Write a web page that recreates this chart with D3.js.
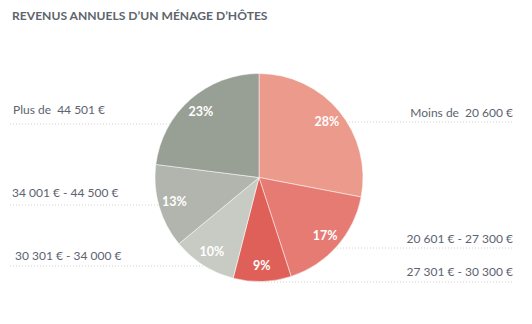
<!DOCTYPE html>
<html>
<head>
<meta charset="utf-8">
<script src="https://cdn.jsdelivr.net/npm/d3@7"></script>
<style>
  html, body { margin: 0; padding: 0; background: #fff; }
  svg { display: block; }
</style>
</head>
<body>
<svg id="chart" width="532" height="324"></svg>
<script>
const title = "REVENUS ANNUELS D’UN MÉNAGE D’HÔTES";
const categories = [
  "Moins de  20 600 €",
  "20 601 € - 27 300 €",
  "27 301 € - 30 300 €",
  "30 301 € - 34 000 €",
  "34 001 € - 44 500 €",
  "Plus de  44 501 €"
];
const values = [28, 17, 9, 10, 13, 23];
const colors = ["#eb9a8b", "#e67b73", "#df5f59", "#c8cbc3", "#b1b5ad", "#989f95"];

// layout
const W = 532, H = 324;
const cx = 259, cy = 177.5, R = 104;
const labelLayout = [
  { side: "right", textY: 117, lineY: 122 },
  { side: "right", textY: 243, lineY: 248 },
  { side: "right", textY: 276, lineY: 282 },
  { side: "left",  textY: 260, lineY: 266, x: 15 },
  { side: "left",  textY: 197, lineY: 205, x: 12 },
  { side: "left",  textY: 114, lineY: 124, x: 13 }
];

const svg = d3.select("#chart");

svg.append("text")
  .attr("x", 12).attr("y", 19.5)
  .attr("font-family", "Lato, sans-serif")
  .attr("font-weight", 700)
  .attr("font-size", 12.1)
  .attr("fill", "#5d646b")
  .text(title);

const data = categories.map((c, i) => ({ cat: c, value: values[i], color: colors[i], layout: labelLayout[i] }));

// dotted guide lines
const lines = svg.append("g");
data.forEach(d => {
  const L = d.layout;
  const x1 = L.side === "right" ? cx : 10;
  const x2 = L.side === "right" ? 514 : cx;
  lines.append("line")
    .attr("x1", x1).attr("x2", x2)
    .attr("y1", L.lineY).attr("y2", L.lineY)
    .attr("stroke", "#d2d2d2")
    .attr("stroke-width", 1)
    .attr("stroke-dasharray", "1,2");
});

// category labels
const labels = svg.append("g")
  .attr("font-family", "Lato, sans-serif")
  .attr("font-size", 12)
  .attr("fill", "#5b6470");
data.forEach(d => {
  const L = d.layout;
  labels.append("text")
    .attr("x", L.side === "right" ? 513 : L.x)
    .attr("y", L.textY)
    .attr("text-anchor", L.side === "right" ? "end" : "start")
    .style("white-space", "pre")
    .attr("xml:space", "preserve")
    .text(d.cat);
});

// pie
const pie = d3.pie().value(d => d.value).sort(null);
const arc = d3.arc().innerRadius(0).outerRadius(R);
const labelArc = d3.arc().innerRadius(88).outerRadius(88);
const g = svg.append("g").attr("transform", `translate(${cx},${cy})`);
const arcs = pie(data);
g.selectAll("path").data(arcs).join("path")
  .attr("d", arc)
  .attr("fill", d => d.data.color)
  .attr("stroke", "#ffffff")
  .attr("stroke-width", 0.5);
g.selectAll("text").data(arcs).join("text")
  .attr("transform", d => `translate(${labelArc.centroid(d)})`)
  .attr("text-anchor", "middle")
  .attr("dy", "0.35em")
  .attr("font-family", "Lato, sans-serif")
  .attr("font-weight", 700)
  .attr("font-size", 12.5)
  .attr("fill", "#ffffff")
  .text(d => d.data.value + "%");
</script>
</body>
</html>
